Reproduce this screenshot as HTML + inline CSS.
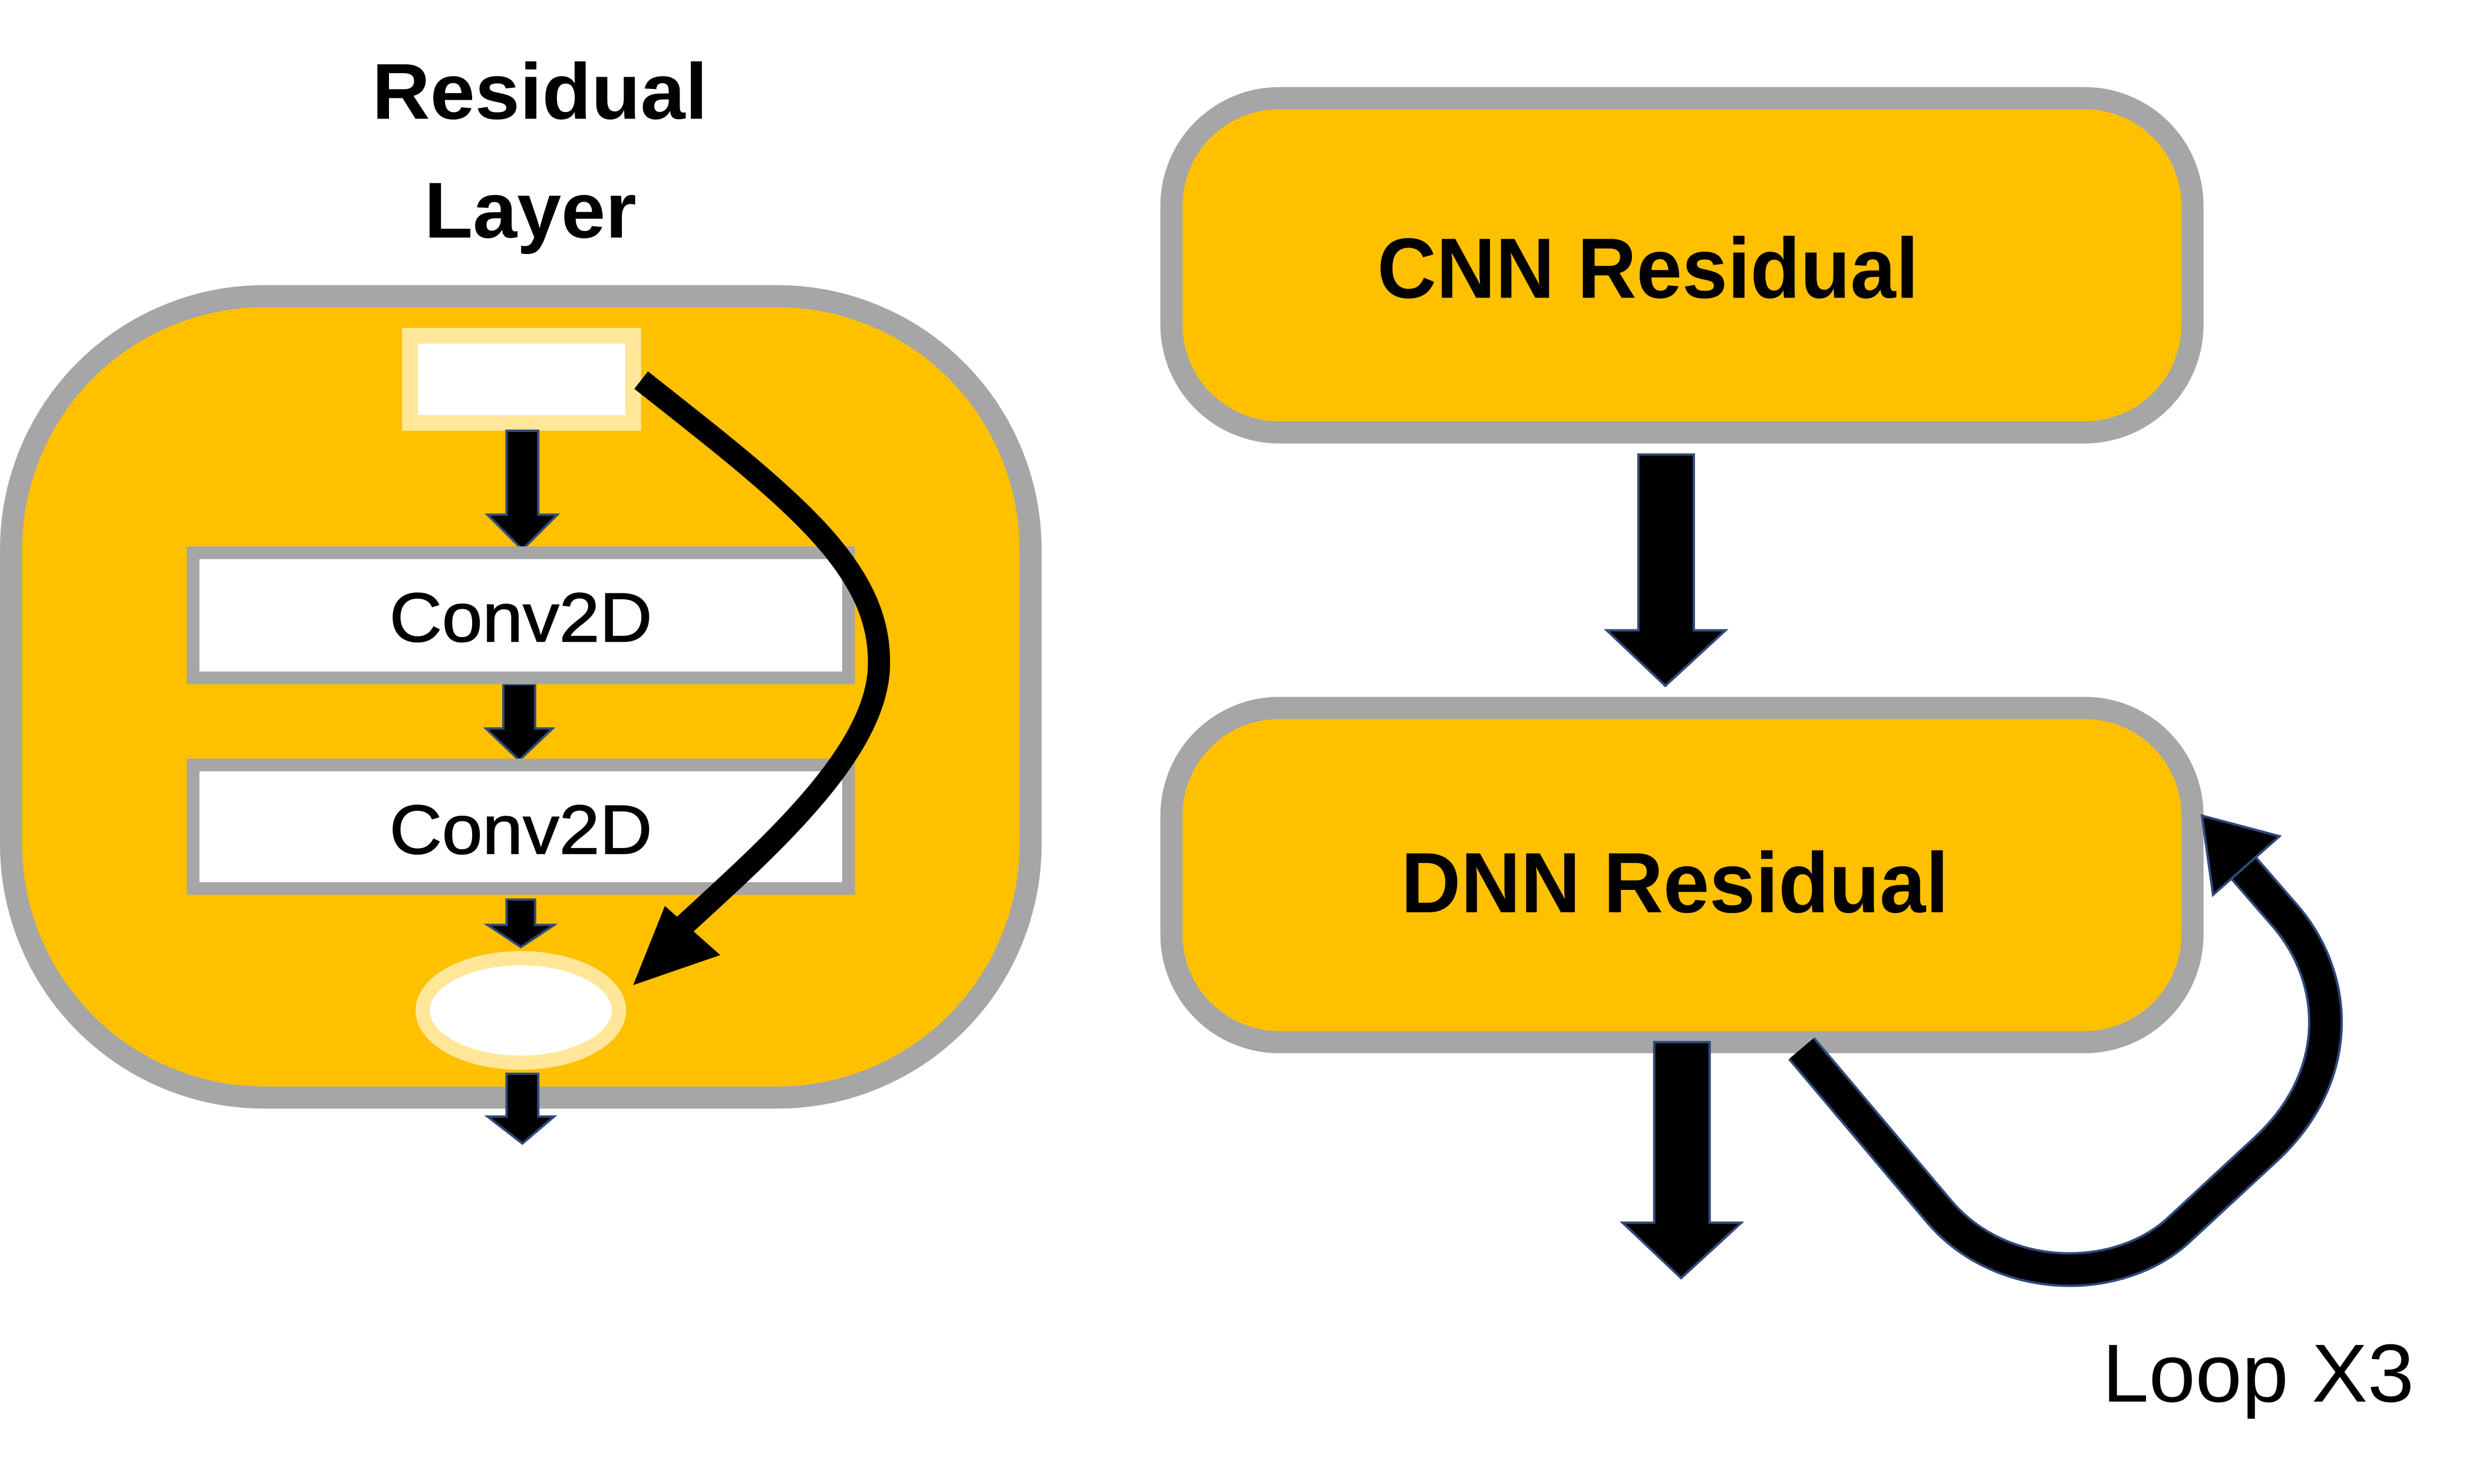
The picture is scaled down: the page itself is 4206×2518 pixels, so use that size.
<!DOCTYPE html>
<html><head><meta charset="utf-8"><style>
html,body{margin:0;padding:0;background:#fff;}
svg{display:block;}
text{font-family:"Liberation Sans",sans-serif;}
</style></head><body>
<svg width="4206" height="2518" viewBox="0 0 1566 937" preserveAspectRatio="none" xmlns="http://www.w3.org/2000/svg">
<!-- Left -->
<text x="341" y="75" font-size="50" font-weight="bold" text-anchor="middle" textLength="212" lengthAdjust="spacingAndGlyphs">Residual</text>
<text x="335" y="150" font-size="50" font-weight="bold" text-anchor="middle" textLength="134" lengthAdjust="spacingAndGlyphs">Layer</text>
<rect x="7" y="187" width="644" height="506" rx="160" ry="160" fill="#FFC000" stroke="#A6A6A6" stroke-width="14"/>
<rect x="259" y="212" width="141" height="55" fill="#fff" stroke="#FFE699" stroke-width="10"/>
<g fill="#000" stroke="#2F4A7A" stroke-width="1.5">
<polygon points="320,272 340,272 340,325 352,325 330,347 308,325 320,325"/>
<polygon points="318,432 338,432 338,460 349,460 328,480 307,460 318,460"/>
<polygon points="320,568 338,568 338,584 350,584 329,598 308,584 320,584"/>
<polygon points="320,678 340,678 340,705 350,705 330,722 308,705 320,705"/>
</g>
<rect x="122" y="349" width="414" height="79" fill="#fff" stroke="#A6A6A6" stroke-width="8"/>
<text x="329" y="405" font-size="44" text-anchor="middle" textLength="166" lengthAdjust="spacingAndGlyphs" stroke="#000" stroke-width="0.6">Conv2D</text>
<rect x="122" y="483" width="414" height="78" fill="#fff" stroke="#A6A6A6" stroke-width="8"/>
<text x="329" y="539" font-size="44" text-anchor="middle" textLength="166" lengthAdjust="spacingAndGlyphs" stroke="#000" stroke-width="0.6">Conv2D</text>
<ellipse cx="329" cy="638" rx="62" ry="33" fill="#fff" stroke="#FFE699" stroke-width="9"/>
<path d="M405,240 C500,315 560,360 555,425 C550,480 480,540 428,588" fill="none" stroke="#000" stroke-width="14"/>
<polygon points="400,622 420,572 455,603" fill="#000"/>
<!-- Right -->
<rect x="740" y="62" width="645" height="211" rx="68" ry="68" fill="#FFC000" stroke="#A6A6A6" stroke-width="14"/>
<text x="1041" y="188" font-size="54" font-weight="bold" text-anchor="middle" textLength="342" lengthAdjust="spacingAndGlyphs">CNN Residual</text>
<polygon points="1035,287 1070,287 1070,398 1090,398 1052,433 1015,398 1035,398" fill="#000" stroke="#2F4A7A" stroke-width="1.5"/>
<rect x="740" y="447" width="645" height="211" rx="68" ry="68" fill="#FFC000" stroke="#A6A6A6" stroke-width="14"/>
<text x="1058" y="576" font-size="54" font-weight="bold" text-anchor="middle" textLength="346" lengthAdjust="spacingAndGlyphs">DNN Residual</text>
<polygon points="1045,658 1080,658 1080,772 1100,772 1062,807 1025,772 1045,772" fill="#000" stroke="#2F4A7A" stroke-width="1.5"/>
<path d="M1138,662 L1225,765 C1265,812 1340,812 1378,775 L1432,725 C1480,680 1478,620 1445,580 L1412,542" fill="none" stroke="#2F4A7A" stroke-width="22" stroke-linejoin="round"/>
<path d="M1138,662 L1225,765 C1265,812 1340,812 1378,775 L1432,725 C1480,680 1478,620 1445,580 L1412,542" fill="none" stroke="#000" stroke-width="19" stroke-linejoin="round"/>
<polygon points="1391,515 1440,528 1398,565" fill="#000" stroke="#2F4A7A" stroke-width="1.5"/>
<text x="1328" y="885" font-size="52" textLength="197" lengthAdjust="spacingAndGlyphs">Loop X3</text>
</svg>
</body></html>
